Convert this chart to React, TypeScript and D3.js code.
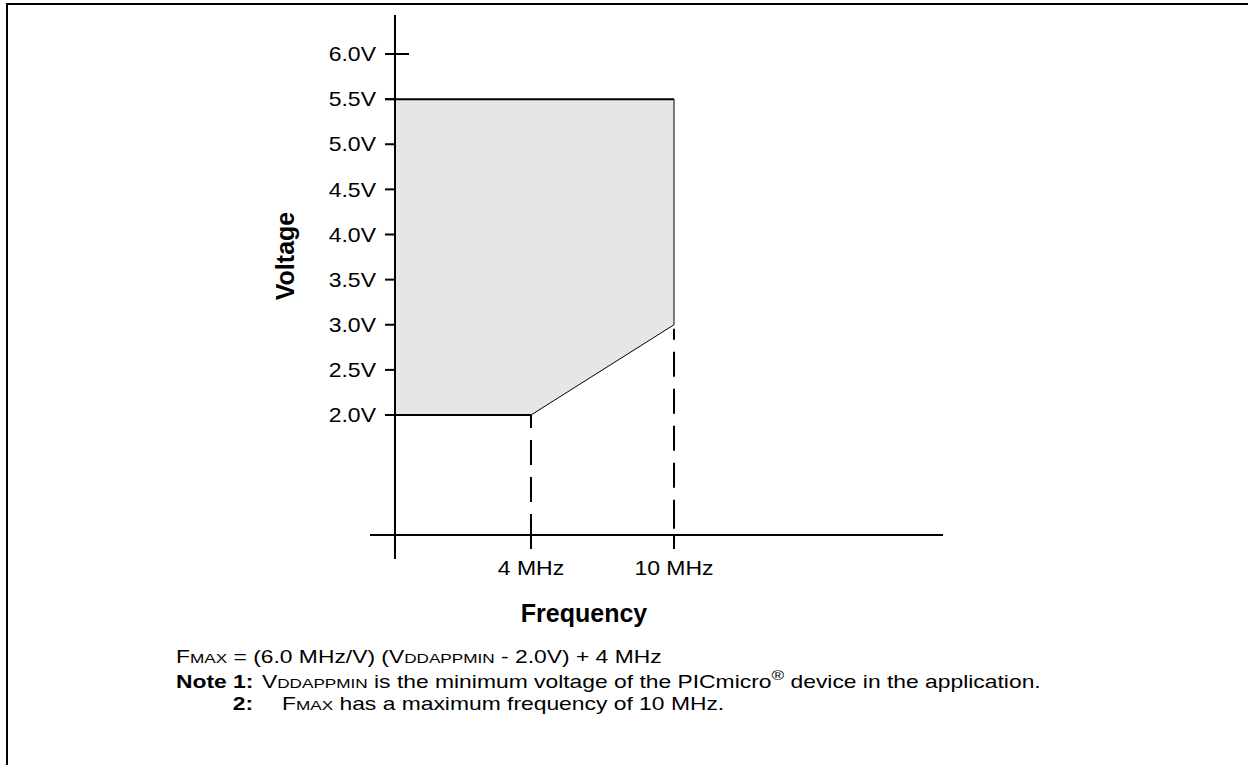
import React from "react";
import * as d3 from "d3";

const voltageTicks = [2.0, 2.5, 3.0, 3.5, 4.0, 4.5, 5.0, 5.5, 6.0];
const voltageLabels = ["2.0V", "2.5V", "3.0V", "3.5V", "4.0V", "4.5V", "5.0V", "5.5V", "6.0V"];
const freqTicks = [4, 10];
const freqLabels = ["4 MHz", "10 MHz"];
// operating region boundary (frequency MHz, voltage V)
const regionFreq = [0, 0, 10, 10, 4];
const regionVolt = [2.0, 5.5, 5.5, 3.0, 2.0];

function Wide({ x, y, s, children }: { x: number; y: number; s: number; children: React.ReactNode }) {
  return <g transform={`translate(${x},${y}) scale(${s},1)`}>{children}</g>;
}

export default function App() {
  const W = 1248, H = 765;
  const x = d3.scaleLinear().domain([0, 4, 10]).range([395, 531, 674]);
  const y = d3.scaleLinear().domain([2, 6]).range([415, 54]);
  const axisY = 535;
  const font = "'Liberation Sans', Arial, Helvetica, sans-serif";
  const fs = 18, sc = 13.5, sx = 1.27;
  const tfs = 20, tsx = 1.15;

  const pts: [number, number][] = regionFreq.map((f, i) => [x(f), y(regionVolt[i])]);
  const area = d3.line()(pts) + "Z";

  return (
    <svg width={W} height={H} style={{ position: "absolute", left: 0, top: 0, background: "#fff" }} fontFamily={font}>
      <rect x={7} y={4} width={1300} height={820} fill="none" stroke="#000" strokeWidth={2} />
      {/* shaded region */}
      <path d={area} fill="#e6e6e6" stroke="none" />
      {/* thin edges */}
      <line x1={x(10)} y1={y(5.5)} x2={x(10)} y2={y(3.0)} stroke="#000" strokeWidth={1} />
      <line x1={x(10)} y1={y(3.0)} x2={x(4)} y2={y(2.0)} stroke="#000" strokeWidth={1} />
      {/* thick edges */}
      <line x1={385} y1={y(5.5)} x2={x(10)} y2={y(5.5)} stroke="#000" strokeWidth={2} />
      <line x1={385} y1={y(2.0)} x2={x(4)} y2={y(2.0)} stroke="#000" strokeWidth={2} />
      {/* dashed guides */}
      <line x1={x(4)} y1={y(2.0)} x2={x(4)} y2={axisY} stroke="#000" strokeWidth={2} strokeDasharray="13,12,25,12,25,12,25,12,25" />
      <line x1={x(10)} y1={y(3.0)} x2={x(10)} y2={axisY} stroke="#000" strokeWidth={2} strokeDasharray="0,4,11,12,25,12,25,12,25,12,25,12,25" />
      {/* axes */}
      <line x1={x(0)} y1={15} x2={x(0)} y2={559} stroke="#000" strokeWidth={2} />
      <line x1={370} y1={axisY} x2={943} y2={axisY} stroke="#000" strokeWidth={2} />
      {/* y ticks */}
      {voltageTicks.map((v, i) => (
        <g key={v}>
          <line x1={385} y1={y(v)} x2={v === 6 ? 409 : x(0)} y2={y(v)} stroke="#000" strokeWidth={2} />
          <Wide x={376} y={y(v)} s={tsx}>
            <text dy="0.36em" textAnchor="end" fontSize={tfs}>{voltageLabels[i]}</text>
          </Wide>
        </g>
      ))}
      {/* x ticks */}
      {freqTicks.map((f, i) => (
        <g key={f}>
          <line x1={x(f)} y1={axisY} x2={x(f)} y2={549} stroke="#000" strokeWidth={2} />
          <Wide x={x(f)} y={568} s={tsx}>
            <text dy="0.36em" textAnchor="middle" fontSize={tfs}>{freqLabels[i]}</text>
          </Wide>
        </g>
      ))}
      <text transform={`translate(294,256) rotate(-90)`} textAnchor="middle" fontSize={25} fontWeight="bold">Voltage</text>
      <text x={584} y={622} textAnchor="middle" fontSize={25} fontWeight="bold">Frequency</text>
      {/* notes */}
      <Wide x={176} y={663} s={sx}>
        <text fontSize={fs}>
          F<tspan fontSize={sc}>MAX</tspan> = (6.0 MHz/V) (V<tspan fontSize={sc}>DDAPPMIN</tspan> - 2.0V) + 4 MHz
        </text>
      </Wide>
      <Wide x={176} y={688} s={sx}>
        <text fontSize={fs} fontWeight="bold">Note 1:</text>
      </Wide>
      <Wide x={262} y={688} s={sx}>
        <text fontSize={fs}>
          V<tspan fontSize={sc}>DDAPPMIN</tspan> is the minimum voltage of the PICmicro<tspan fontSize={sc} dy={-8}>®</tspan><tspan dy={8}> device in the application.</tspan>
        </text>
      </Wide>
      <Wide x={253} y={710} s={sx}>
        <text fontSize={fs} fontWeight="bold" textAnchor="end">2:</text>
      </Wide>
      <Wide x={282} y={710} s={sx}>
        <text fontSize={fs}>
          F<tspan fontSize={sc}>MAX</tspan> has a maximum frequency of 10 MHz.
        </text>
      </Wide>
    </svg>
  );
}
